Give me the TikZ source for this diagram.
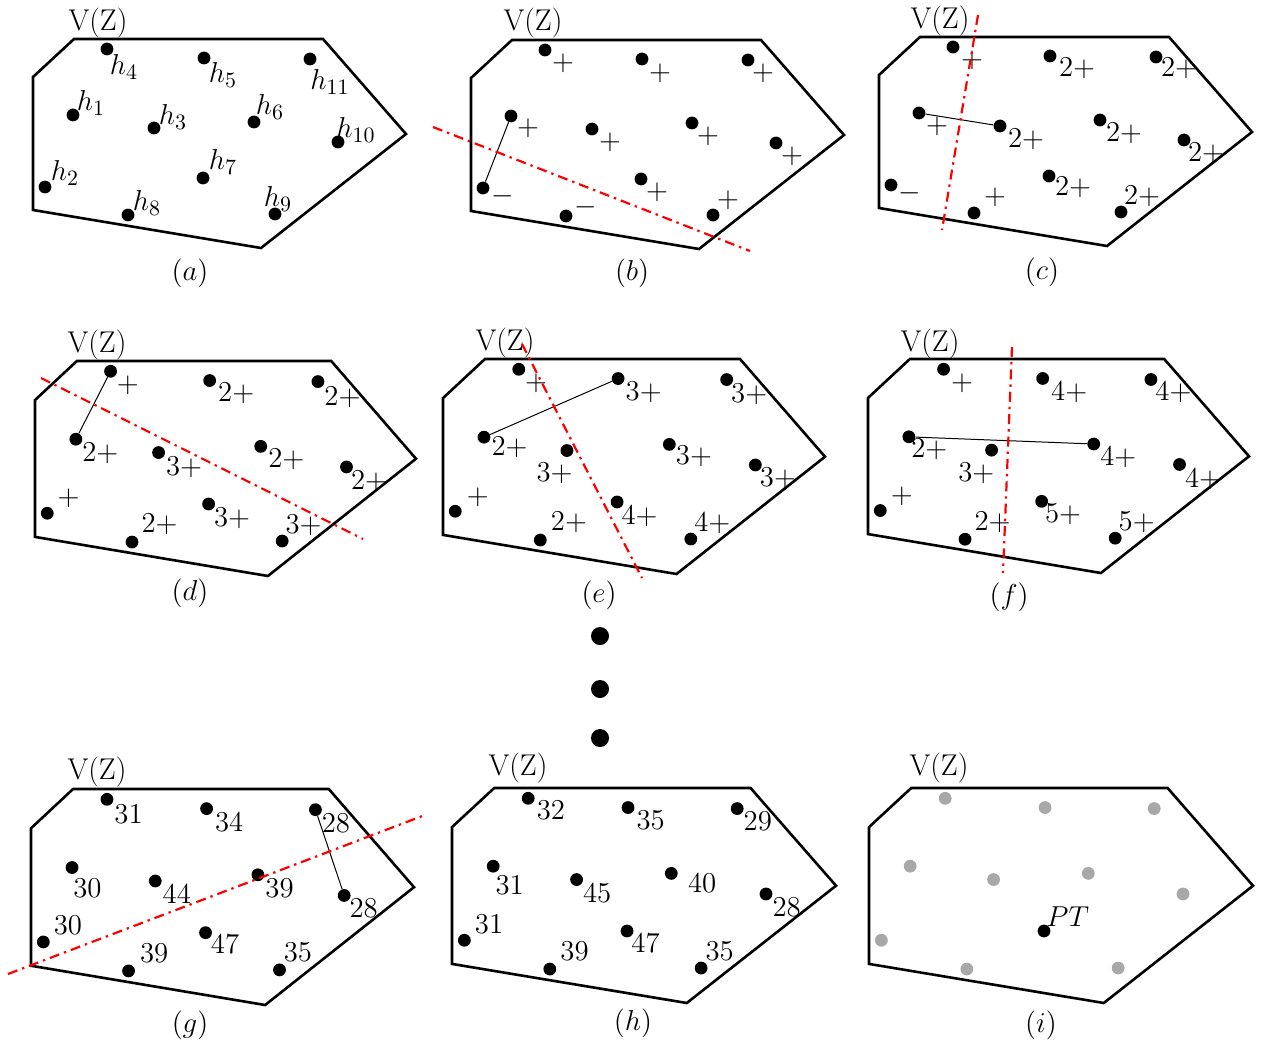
\documentclass[tikz,border=0pt]{standalone}
\usetikzlibrary{calc}
\definecolor{ptgray}{RGB}{168,168,168}
\tikzset{
 dot/.style={circle,fill=black,inner sep=0pt,minimum size=6.4pt},
 graydot/.style={dot,fill=ptgray},
 bigdot/.style={circle,fill=black,inner sep=0pt,minimum size=9pt},
 lab/.style={inner sep=0pt,font=\fontsize{15}{18}\selectfont},
 hexline/.style={line width=1.3pt,line join=miter},
 link/.style={line width=0.5pt},
 cut/.style={red,line width=1.1pt,dash pattern=on 5pt off 2.5pt on 1.2pt off 2.5pt},
}
\newcommand{\hexshape}{\draw[hexline] (74,39) -- (323,39) -- (406,134) -- (261,248) -- (33,210) -- (33,77) -- cycle;}
\newcommand{\panelpts}[4]{%
 \node[#3] (#1p4) at (107,49) {};
 \node[#3] (#1p5) at (204,58) {};
 \node[#3] (#1p11) at (310,59) {};
 \node[#3] (#1p1) at (73,115) {};
 \node[#3] (#1p3) at (154,128) {};
 \node[#3] (#1p6) at (#2,122) {};
 \node[#3] (#1p10) at (338,142) {};
 \node[#3] (#1p2) at (45,187) {};
 \node[#4] (#1p7) at (203,178) {};
 \node[#3] (#1p8) at (128,215) {};
 \node[#3] (#1p9) at (275,214) {};
}
\newcommand{\plab}[4]{\path (#1) ++(#2,#3) node[lab] {#4};}
\begin{document}
\begin{tikzpicture}[x=0.5pt,y=-0.5pt]
\useasboundingbox (0,0) rectangle (1262,1043);

% ---------- (a)
\begin{scope}
\hexshape
\panelpts{a}{254}{dot}{dot}
\plab{ap4}{17}{18}{$h_4$}
\plab{ap5}{19}{17}{$h_5$}
\plab{ap11}{20}{23}{$h_{11}$}
\plab{ap1}{18}{-12}{$h_1$}
\plab{ap3}{19}{-11}{$h_3$}
\plab{ap6}{16}{-15}{$h_6$}
\plab{ap10}{18}{-12}{$h_{10}$}
\plab{ap2}{20}{-14}{$h_2$}
\plab{ap7}{20}{-16}{$h_7$}
\plab{ap8}{19}{-12}{$h_8$}
\plab{ap9}{3}{-15}{$h_9$}
\end{scope}
\node[lab] (avz) at (98,23) {V(Z)};
\node[lab] (acap) at (190,273) {$(a)$};

% ---------- (b)
\begin{scope}[shift={(438,1)}]
\hexshape
\panelpts{b}{254}{dot}{dot}
\draw[link] (bp1) -- (bp2);
\plab{bp4}{18}{13}{$+$}
\plab{bp5}{18}{14}{$+$}
\plab{bp11}{15}{13}{$+$}
\plab{bp1}{17}{12}{$+$}
\plab{bp3}{18}{13}{$+$}
\plab{bp6}{16}{13}{$+$}
\plab{bp10}{16}{13}{$+$}
\plab{bp2}{20}{8}{$-$}
\plab{bp7}{16}{13}{$+$}
\plab{bp8}{20}{-9}{$-$}
\plab{bp9}{15}{-15}{$+$}
\end{scope}
\node[lab] (bvz) at (533,23) {V(Z)};
\node[lab] (bcap) at (632,273) {$(b)$};
\coordinate (bc1) at (433,127);
\coordinate (bc2) at (750,251);
\draw[cut] (bc1) -- (bc2);

% ---------- (c)
\begin{scope}[shift={(846,-2)}]
\hexshape
\panelpts{c}{254}{dot}{dot}
\draw[link] (cp1) -- (cp3);
\plab{cp4}{19}{13}{$+$}
\plab{cp5}{27}{12}{$2+$}
\plab{cp11}{23}{11}{$2+$}
\plab{cp1}{18}{13}{$+$}
\plab{cp3}{26}{13}{$2+$}
\plab{cp6}{24}{13}{$2+$}
\plab{cp10}{22}{13}{$2+$}
\plab{cp2}{19}{8}{$-$}
\plab{cp7}{24}{11}{$2+$}
\plab{cp8}{21}{-16}{$+$}
\plab{cp9}{21}{-16}{$2+$}
\end{scope}
\node[lab] (cvz) at (940,21) {V(Z)};
\node[lab] (ccap) at (1042,272) {$(c)$};
\coordinate (cc1) at (978,15);
\coordinate (cc2) at (942,230);
\draw[cut] (cc1) -- (cc2);

% ---------- (d)
\begin{scope}[shift={(1.29,320.88)},xscale=1.0214,yscale=1.0287]
\hexshape
\panelpts{d}{254}{dot}{dot}
\draw[link] (dp4) -- (dp1);
\plab{dp4}{17}{14}{$+$}
\plab{dp5}{26}{12}{$2+$}
\plab{dp11}{24}{15}{$2+$}
\plab{dp1}{24}{14}{$2+$}
\plab{dp3}{25}{14}{$3+$}
\plab{dp6}{25}{13}{$2+$}
\plab{dp10}{22}{14}{$2+$}
\plab{dp2}{21}{-15}{$+$}
\plab{dp7}{23}{14}{$3+$}
\plab{dp8}{27}{-17}{$2+$}
\plab{dp9}{21}{-15}{$3+$}
\end{scope}
\node[lab] (dvz) at (97,345) {V(Z)};
\node[lab] (dcap) at (190,593) {$(d)$};
\coordinate (dc1) at (41,378);
\coordinate (dc2) at (363,539);
\draw[cut] (dc1) -- (dc2);

% ---------- (e)
\begin{scope}[shift={(409.20,318.88)},xscale=1.0241,yscale=1.0287]
\hexshape
\panelpts{e}{254}{dot}{dot}
\draw[link] (ep1) -- (ep5);
\plab{ep4}{17}{14}{$+$}
\plab{ep5}{25}{13}{$3+$}
\plab{ep11}{22}{14}{$3+$}
\plab{ep1}{25}{10}{$2+$}
\plab{ep3}{-12}{22}{$3+$}
\plab{ep6}{24}{12}{$3+$}
\plab{ep10}{22}{13}{$3+$}
\plab{ep2}{22}{-14}{$+$}
\plab{ep7}{22}{14}{$4+$}
\plab{ep8}{28}{-17}{$2+$}
\plab{ep9}{21}{-15}{$4+$}
\end{scope}
\node[lab] (evz) at (505,343) {V(Z)};
\node[lab] (ecap) at (599,595) {$(e)$};
\coordinate (ec1) at (522,344);
\coordinate (ec2) at (642,578);
\draw[cut] (ec1) -- (ec2);

% ---------- (f)
\begin{scope}[shift={(834.29,319.07)},xscale=1.0214,yscale=1.0239]
\hexshape
\panelpts{f}{254}{dot}{dot}
\draw[link] (fp1) -- (fp6);
\plab{fp4}{18}{14}{$+$}
\plab{fp5}{26}{14}{$4+$}
\plab{fp11}{22}{13}{$4+$}
\plab{fp1}{20}{12}{$2+$}
\plab{fp3}{-15}{23}{$3+$}
\plab{fp6}{24}{13}{$4+$}
\plab{fp10}{23}{14}{$4+$}
\plab{fp2}{21}{-14}{$+$}
\plab{fp7}{21}{13}{$5+$}
\plab{fp8}{27}{-17}{$2+$}
\plab{fp9}{21}{-16}{$5+$}
\end{scope}
\node[lab] (fvz) at (930,344) {V(Z)};
\node[lab] (fcap) at (1009,597) {$(f)$};
\coordinate (fc1) at (1012,347);
\coordinate (fc2) at (1003,573);
\draw[cut] (fc1) -- (fc2);

% ---------- ellipsis
\node[bigdot] (el1) at (600,636) {};
\node[bigdot] (el2) at (600,689) {};
\node[bigdot] (el3) at (600,738) {};

% ---------- (g)
\begin{scope}[shift={(-2.88,748.69)},xscale=1.0268,yscale=1.0335]
\hexshape
\panelpts{g}{254}{dot}{dot}
\draw[link] (gp11) -- (gp10);
\plab{gp4}{21}{14}{$31$}
\plab{gp5}{22}{13}{$34$}
\plab{gp11}{20}{13}{$28$}
\plab{gp1}{15}{20}{$30$}
\plab{gp3}{21}{13}{$44$}
\plab{gp6}{21}{13}{$39$}
\plab{gp10}{19}{12}{$28$}
\plab{gp2}{24}{-16}{$30$}
\plab{gp7}{19}{11}{$47$}
\plab{gp8}{25}{-17}{$39$}
\plab{gp9}{18}{-17}{$35$}
\end{scope}
\node[lab] (gvz) at (97,772) {V(Z)};
\node[lab] (gcap) at (190,1025) {$(g)$};
\coordinate (gc1) at (8,974);
\coordinate (gc2) at (425,815);
\draw[cut] (gc1) -- (gc2);

% ---------- (h)
\begin{scope}[shift={(418.03,747.88)},xscale=1.0295,yscale=1.0287]
\hexshape
\panelpts{h}{246}{dot}{dot}
\plab{hp4}{22}{12}{$32$}
\plab{hp5}{22}{12}{$35$}
\plab{hp11}{20}{12}{$29$}
\plab{hp1}{16}{18}{$31$}
\plab{hp3}{20}{13}{$45$}
\plab{hp6}{30}{10}{$40$}
\plab{hp10}{20}{13}{$28$}
\plab{hp2}{24}{-16}{$31$}
\plab{hp7}{18}{12}{$47$}
\plab{hp8}{24}{-17}{$39$}
\plab{hp9}{18}{-16}{$35$}
\end{scope}
\node[lab] (hvz) at (518,768) {V(Z)};
\node[lab] (hcap) at (633,1023) {$(h)$};

% ---------- (i)
\begin{scope}[shift={(835.03,747.88)},xscale=1.0295,yscale=1.0287]
\hexshape
\panelpts{i}{246}{graydot}{dot}
\plab{ip7}{23}{-14}{$PT$}
\end{scope}
\node[lab] (ivz) at (939,768) {V(Z)};
\node[lab] (icap) at (1041,1025) {$(i)$};
\end{tikzpicture}
\end{document}
